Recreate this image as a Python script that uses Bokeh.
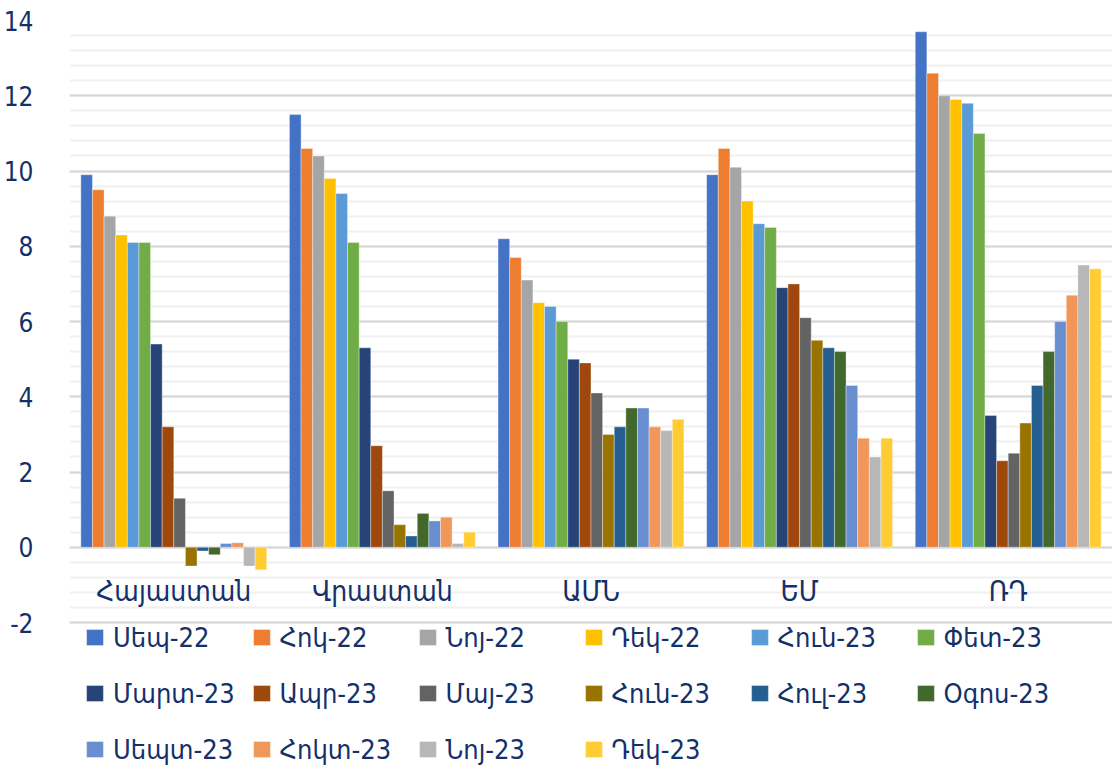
import numpy as np
from bokeh.plotting import figure
from bokeh.models import ColumnDataSource, FactorRange, Legend, LegendItem, FixedTicker, Range1d
from bokeh.transform import dodge
from bokeh.core.properties import value
from bokeh.embed import file_html
from bokeh.resources import INLINE

# ---- data ----
categories = ["Հայաստան", "Վրաստան", "ԱՄՆ", "ԵՄ", "ՌԴ"]
series_names = ["Սեպ-22", "Հոկ-22", "Նոյ-22", "Դեկ-22", "Հուն-23", "Փետ-23",
                "Մարտ-23", "Ապր-23", "Մայ-23", "Հուն-23", "Հուլ-23", "Օգոս-23",
                "Սեպտ-23", "Հոկտ-23", "Նոյ-23", "Դեկ-23"]
sep22 = [9.9, 11.5, 8.2, 9.9, 13.7]
oct22 = [9.5, 10.6, 7.7, 10.6, 12.6]
nov22 = [8.8, 10.4, 7.1, 10.1, 12.0]
dec22 = [8.3, 9.8, 6.5, 9.2, 11.9]
jan23 = [8.1, 9.4, 6.4, 8.6, 11.8]
feb23 = [8.1, 8.1, 6.0, 8.5, 11.0]
mar23 = [5.4, 5.3, 5.0, 6.9, 3.5]
apr23 = [3.2, 2.7, 4.9, 7.0, 2.3]
may23 = [1.3, 1.5, 4.1, 6.1, 2.5]
jun23 = [-0.5, 0.6, 3.0, 5.5, 3.3]
jul23 = [-0.1, 0.3, 3.2, 5.3, 4.3]
aug23 = [-0.2, 0.9, 3.7, 5.2, 5.2]
sep23 = [0.1, 0.7, 3.7, 4.3, 6.0]
oct23 = [0.12, 0.8, 3.2, 2.9, 6.7]
nov23 = [-0.5, 0.1, 3.1, 2.4, 7.5]
dec23 = [-0.6, 0.4, 3.4, 2.9, 7.4]
series_values = [sep22, oct22, nov22, dec22, jan23, feb23, mar23, apr23, may23,
                 jun23, jul23, aug23, sep23, oct23, nov23, dec23]
colors = ["#4472C4", "#ED7D31", "#A5A5A5", "#FFC000", "#5B9BD5", "#70AD47",
          "#264478", "#9E480E", "#636363", "#997300", "#255E91", "#43682B",
          "#698ED0", "#F1975A", "#B7B7B7", "#FFCD33"]
y_ticks = [-2, 0, 2, 4, 6, 8, 10, 12, 14]

TEXT = "#14306A"
FONT = "DejaVu Sans Condensed"

data = {"cat": categories}
for i, vals in enumerate(series_values):
    data[f"s{i}"] = vals
source = ColumnDataSource(data)

W, H = 1112, 767
TOP, LEFT = 20, 67
AXIS_BOTTOM_PX = 622          # pixel row of the lowest tick (-2)
y_lo, y_hi = y_ticks[0], y_ticks[-1]
px_per_unit = (AXIS_BOTTOM_PX - TOP) / (y_hi - y_lo)
y_start = y_hi - (H - TOP) / px_per_unit   # frame extends to the bottom (legend lives there)

p = figure(x_range=FactorRange(factors=categories, range_padding=0),
           y_range=Range1d(y_start, y_hi),
           width=W, height=H, output_backend="svg", toolbar_location=None,
           x_axis_location=None, min_border_left=LEFT, min_border_right=0,
           min_border_top=TOP, min_border_bottom=0)
p.outline_line_color = None
p.background_fill_color = "white"

# grid (only between -2 and 14)
p.xgrid.grid_line_color = None
p.yaxis.ticker = FixedTicker(ticks=y_ticks,
                             minor_ticks=[round(v, 2) for v in np.arange(y_lo, y_hi + 0.001, 0.4)])
p.yaxis.major_label_overrides = {-2: "-2"}
p.ygrid.grid_line_color = "#D6D6D6"
p.ygrid.grid_line_width = 2
p.ygrid.minor_grid_line_color = "#F0F0F0"
p.ygrid.minor_grid_line_width = 2

# y axis
p.yaxis.axis_line_color = None
p.yaxis.major_tick_line_color = None
p.yaxis.minor_tick_line_color = None
p.yaxis.major_label_text_font = FONT
p.yaxis.major_label_text_font_size = "26px"
p.yaxis.major_label_text_color = TEXT
p.yaxis.major_label_standoff = 30

n = len(series_values)
w = 0.0557
items = []
for i, (name, col) in enumerate(zip(series_names, colors)):
    off = (i - (n - 1) / 2) * w
    r = p.vbar(x=dodge("cat", off, range=p.x_range), top=f"s{i}", width=w,
               source=source, fill_color=col, line_color="white", line_alpha=0.6,
               line_width=0.6)
    items.append(LegendItem(label=name, renderers=[r]))

# category labels inside plot area (between 0 and -2)
p.text(x="cat", y=-1.17, text="cat", source=source, text_align="center",
       text_baseline="middle", text_font=value(FONT), text_font_size="28px",
       text_color=TEXT)

legend = Legend(items=items, ncols=6, orientation="horizontal",
                location=(15, -2), margin=0, padding=0,
                glyph_width=21, glyph_height=20, label_standoff=8,
                label_width=121, label_height=40, spacing=16,
                label_text_font=FONT, label_text_font_size="27px",
                label_text_color=TEXT, border_line_color=None,
                background_fill_alpha=0)
p.add_layout(legend)

open("out.html", "w").write(file_html(p, INLINE))
